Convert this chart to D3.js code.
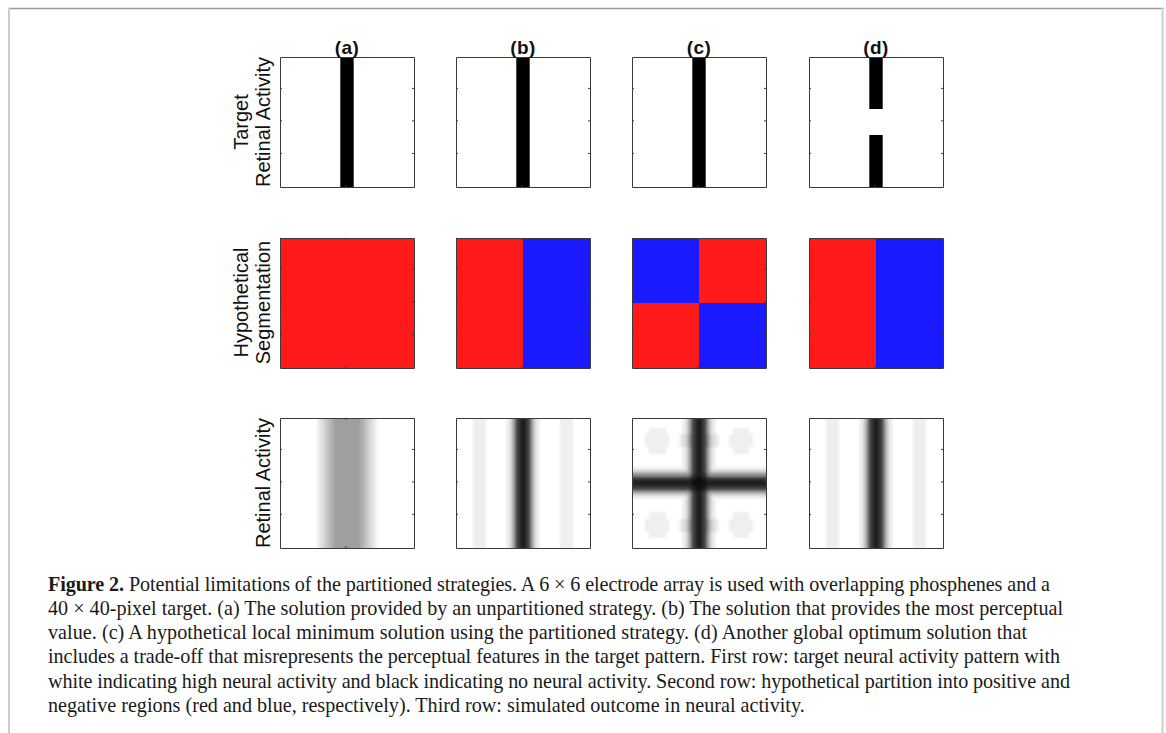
<!DOCTYPE html>
<html>
<head>
<meta charset="utf-8">
<script src="https://cdn.jsdelivr.net/npm/d3@7"></script>
<style>
  body { margin: 0; background: #fff; }
  svg { display: block; }
</style>
</head>
<body>
<svg id="fig"></svg>
<script>
// panel titles and row labels
const panels = ["(a)", "(b)", "(c)", "(d)"];
const rowLabels = [["Target", "Retinal Activity"], ["Hypothetical", "Segmentation"], ["", "Retinal Activity"]];

// row 1: target pattern, black bar columns (1-based pixels, inclusive) and its row segments
const targetCols = [[19, 22], [19, 22], [19, 22], [19, 22]];
const targetSegments = [[[1, 40]], [[1, 40]], [[1, 40]], [[1, 16], [25, 40]]];

// row 2: 2x2 segmentation, top row first, "+" positive (red), "-" negative (blue)
const segmentation = [
  [["+", "+"], ["+", "+"]],
  [["+", "-"], ["+", "-"]],
  [["-", "+"], ["+", "-"]],
  [["+", "-"], ["+", "-"]]
];

// row 3: simulated 40x40 outcome, darkness 0 (white) .. f (black), [row, repeat]
const outcomeA = [
  ["00000000000123456666666654321" + "00000000000", 40]
];
const outcomeB = [
  ["000001111000000" + "137ceec731" + "000000111100000", 40]
];
const outcomeC = [
  ["000000000000000" + "137ceec731" + "000000000000000", 3],
  ["000001111100000" + "137ceec731" + "000001111100000", 2],
  ["00001111111000" + "1248ceec8421" + "00011111110000", 4],
  ["000001111100000" + "137ceec731" + "000001111100000", 2],
  ["000000000000000" + "137ceec731" + "000000000000000", 4],
  ["111111111111111" + "137ceec731" + "111111111111111", 1],
  ["333333333333333" + "347ceec743" + "333333333333333", 1],
  ["777777777777777" + "779deed977" + "777777777777777", 1],
  ["ccccccccccccccc" + "ccdeffedcc" + "ccccccccccccccc", 1],
  ["eeeeeeeeeeeeeee" + "eeeffffeee" + "eeeeeeeeeeeeeee", 2],
  ["ccccccccccccccc" + "ccdeffedcc" + "ccccccccccccccc", 1],
  ["777777777777777" + "779deed977" + "777777777777777", 1],
  ["333333333333333" + "347ceec743" + "333333333333333", 1],
  ["111111111111111" + "137ceec731" + "111111111111111", 1],
  ["000000000000000" + "137ceec731" + "000000000000000", 4],
  ["000001111100000" + "137ceec731" + "000001111100000", 2],
  ["00001111111000" + "1248ceec8421" + "00011111110000", 4],
  ["000001111100000" + "137ceec731" + "000001111100000", 2],
  ["000000000000000" + "137ceec731" + "000000000000000", 3]
];
const outcomeD = [
  ["000001111000000" + "137ceec731" + "000000111100000", 40]
];
const outcomes = [outcomeA, outcomeB, outcomeC, outcomeD];

const captionBold = "Figure 2.";
const captionLines = [
  " Potential limitations of the partitioned strategies. A 6 \u00d7 6 electrode array is used with overlapping phosphenes and a",
  "40 \u00d7 40-pixel target. (a) The solution provided by an unpartitioned strategy. (b) The solution that provides the most perceptual",
  "value. (c) A hypothetical local minimum solution using the partitioned strategy. (d) Another global optimum solution that",
  "includes a trade-off that misrepresents the perceptual features in the target pattern. First row: target neural activity pattern with",
  "white indicating high neural activity and black indicating no neural activity. Second row: hypothetical partition into positive and",
  "negative regions (red and blue, respectively). Third row: simulated outcome in neural activity."
];

const W = 1166, H = 733;
const RED = "#ff1a1a", BLUE = "#1a1aff", AXIS = "#3a3a3a";

const svg = d3.select("#fig").attr("width", W).attr("height", H);

// soft blur for the simulated images (alpha reset keeps panel edges full)
const defs = svg.append("defs");
const blur = defs.append("filter").attr("id", "soft")
    .attr("color-interpolation-filters", "sRGB")
    .attr("x", "-5%").attr("y", "-5%").attr("width", "110%").attr("height", "110%");
blur.append("feGaussianBlur").attr("stdDeviation", 1.1);
blur.append("feComponentTransfer").append("feFuncA").attr("type", "table").attr("tableValues", "1 1");

// frame
svg.append("line").attr("x1", 8).attr("x2", 1164).attr("y1", 8.5).attr("y2", 8.5)
    .attr("stroke", "#9a9a9a").attr("stroke-width", 1.5);
svg.append("line").attr("x1", 9).attr("x2", 9).attr("y1", 8).attr("y2", H)
    .attr("stroke", "#cdcdcd").attr("stroke-width", 2);
svg.append("line").attr("x1", 1162.5).attr("x2", 1162.5).attr("y1", 8).attr("y2", H)
    .attr("stroke", "#cdcdcd").attr("stroke-width", 2);

const col = d3.scaleBand().domain(panels).range([280, 942.6]).paddingInner(0.2395);
const row = d3.scaleBand().domain(d3.range(3)).range([57, 548]).paddingInner(0.28);
const bw = Math.round(col.bandwidth()), bh = Math.round(row.bandwidth());
const px = d3.scaleLinear().domain([0.5, 40.5]).range([0, bw]);
const py = d3.scaleLinear().domain([0.5, 40.5]).range([0, bh]);
const half = d3.scaleBand().domain([0, 1]).range([0, bw]);
const halfY = d3.scaleBand().domain([0, 1]).range([0, bh]);
const gray = d => { const v = 255 - parseInt(d, 16) * 16; return `rgb(${v},${v},${v})`; };

function axes(g) {
  const yt = [10, 20, 30], xt = [20];
  g.append("g").call(d3.axisLeft(py).tickValues(yt).tickSize(-2).tickSizeOuter(0).tickFormat(""));
  g.append("g").attr("transform", `translate(${bw},0)`)
      .call(d3.axisRight(py).tickValues(yt).tickSize(-2).tickSizeOuter(0).tickFormat(""));
  g.append("g").call(d3.axisTop(px).tickValues(xt).tickSize(-2).tickSizeOuter(0).tickFormat(""));
  g.append("g").attr("transform", `translate(0,${bh})`)
      .call(d3.axisBottom(px).tickValues(xt).tickSize(-2).tickSizeOuter(0).tickFormat(""));
  g.selectAll("path, line").attr("stroke", AXIS);
}

defs.append("clipPath").attr("id", "panelClip")
  .append("rect").attr("width", bw).attr("height", bh);

panels.forEach((p, i) => {
  const x0 = Math.round(col(p));

  // row 1: target
  const g0 = svg.append("g").attr("transform", `translate(${x0},${Math.round(row(0))})`);
  g0.append("rect").attr("width", bw).attr("height", bh).attr("fill", "#fff");
  const [c0, c1] = targetCols[i];
  g0.selectAll("rect.bar").data(targetSegments[i]).join("rect")
      .attr("class", "bar")
      .attr("x", px(c0 - 0.5)).attr("width", px(c1 + 0.5) - px(c0 - 0.5))
      .attr("y", d => py(d[0] - 0.5)).attr("height", d => py(d[1] + 0.5) - py(d[0] - 0.5))
      .attr("fill", "#000");
  axes(g0);
  g0.append("text").attr("x", bw / 2).attr("y", -3.5)
      .attr("text-anchor", "middle")
      .attr("font-family", "Liberation Sans, Arial, sans-serif")
      .attr("font-weight", "bold").attr("font-size", 19)
      .attr("letter-spacing", 0.4)
      .attr("fill", "#111")
      .text(p);

  // row 2: segmentation
  const g1 = svg.append("g").attr("transform", `translate(${x0},${Math.round(row(1))})`);
  const quads = segmentation[i].flatMap((r, ri) => r.map((s, ci) => ({ri, ci, s})));
  g1.selectAll("rect").data(quads).join("rect")
      .attr("x", d => half(d.ci)).attr("y", d => halfY(d.ri))
      .attr("width", half.bandwidth()).attr("height", halfY.bandwidth())
      .attr("fill", d => d.s === "+" ? RED : BLUE);
  axes(g1);

  // row 3: simulated outcome
  const g2 = svg.append("g").attr("transform", `translate(${x0},${Math.round(row(2))})`);
  const img = g2.append("g").attr("clip-path", "url(#panelClip)")
    .append("g").attr("filter", "url(#soft)");
  const rows = outcomes[i].flatMap(([s, n]) => d3.range(n).map(() => s));
  const cells = rows.flatMap((s, ri) => s.split("").map((d, ci) => ({ri, ci, d})));
  img.selectAll("rect").data(cells).join("rect")
      .attr("x", d => px(d.ci + 0.5)).attr("y", d => py(d.ri + 0.5))
      .attr("width", px(1.5) - px(0.5) + 0.4).attr("height", py(1.5) - py(0.5) + 0.4)
      .attr("fill", d => gray(d.d))
      .attr("shape-rendering", "crispEdges");
  axes(g2);
});

// row labels
rowLabels.forEach((lines, r) => {
  const cy = row(r) + bh / 2;
  [248, 270].forEach((bx, k) => {
    if (!lines[k]) return;
    svg.append("text")
        .attr("transform", `translate(${bx},${cy}) rotate(-90)`)
        .attr("text-anchor", "middle")
        .attr("font-family", "Liberation Sans, Arial, sans-serif")
        .attr("font-size", 20)
        .attr("fill", "#111")
        .text(lines[k]);
  });
});

// caption
const cap = svg.append("g").attr("font-family", "Liberation Serif, Times New Roman, serif").attr("fill", "#1a1a1a");
const probe = cap.append("text").attr("font-size", 100).text(captionLines[1]);
const fs = 100 * (1063 - 48) / probe.node().getComputedTextLength();
probe.remove();
const ends = [1050, 1063, 1027, 1060, 1070, null];
captionLines.forEach((line, k) => {
  const t = cap.append("text").attr("x", 48).attr("y", 590.7 + k * 24.2).attr("font-size", fs);
  if (k === 0) t.append("tspan").attr("font-weight", "bold").text(captionBold);
  t.append("tspan").text(line);
  if (ends[k]) t.attr("textLength", ends[k] - 48).attr("lengthAdjust", "spacing");
});
</script>
</body>
</html>
